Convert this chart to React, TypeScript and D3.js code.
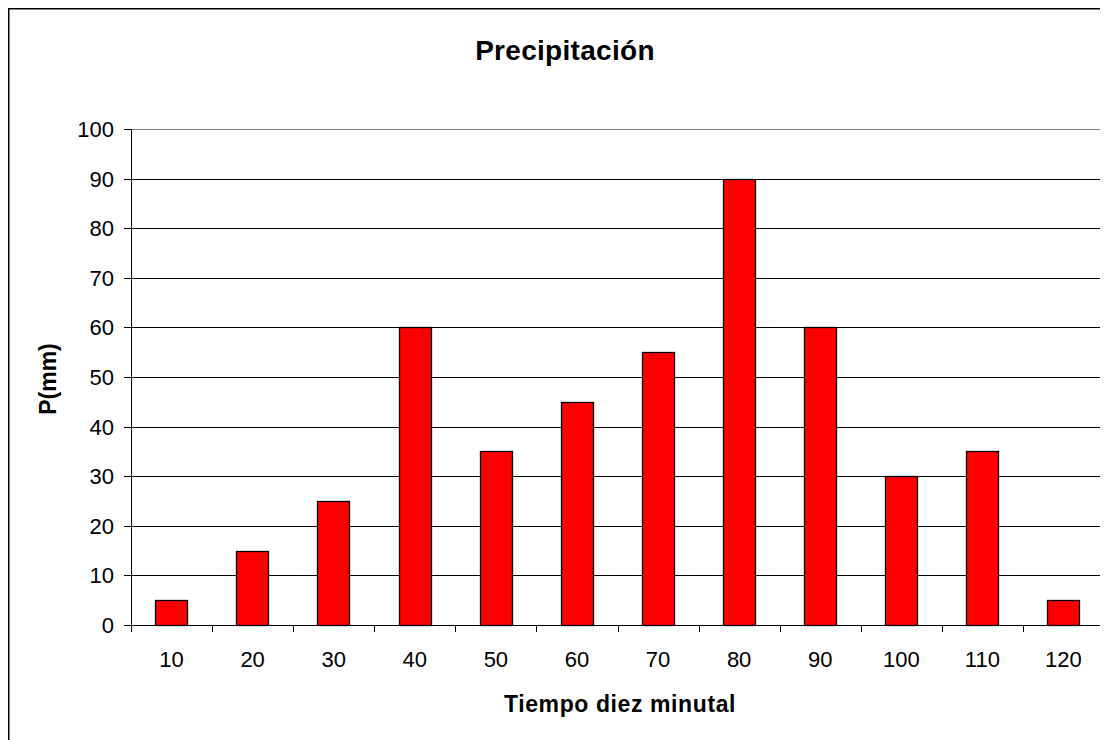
import React from 'react';
import * as d3 from 'd3';

const categories = ['10', '20', '30', '40', '50', '60', '70', '80', '90', '100', '110', '120'];
const precipitation = [5, 15, 25, 60, 35, 45, 55, 90, 60, 30, 35, 5];
const yTicks = [0, 10, 20, 30, 40, 50, 60, 70, 80, 90, 100];

const width = 1100;
const height = 732;
const margin = { left: 123, top: 121, right: 1096, bottom: 617 };
const font = 'Arial, "Liberation Sans", sans-serif';

const App: React.FC = () => {
  const x = d3.scaleBand<string>()
    .domain(categories)
    .range([margin.left, margin.right])
    .paddingInner(0.6)
    .paddingOuter(0.3);
  const step = x.step();
  const y = d3.scaleLinear().domain([0, 100]).range([margin.bottom, margin.top]);

  return (
    <>
      <style>{'body{overflow:hidden}'}</style>
      <svg width={width} height={height} style={{ display: 'block', fontFamily: font }}>
        <rect x={0.75} y={0.75} width={1130} height={780} fill="#fff" stroke="#000" strokeWidth={1.5} />
        <text x={557} y={52} textAnchor="middle" fontSize={28} fontWeight="bold" letterSpacing={0.3}>Precipitación</text>

        {/* gridlines */}
        {yTicks.slice(1, -1).map(t => (
          <line key={t} x1={margin.left} x2={margin.right} y1={Math.round(y(t)) + 0.5} y2={Math.round(y(t)) + 0.5} stroke="#000" strokeWidth={1} />
        ))}
        <line x1={margin.left} x2={margin.right} y1={y(100) + 0.5} y2={y(100) + 0.5} stroke="#808080" strokeWidth={1} />
        <line x1={margin.right + 0.5} x2={margin.right + 0.5} y1={margin.top} y2={margin.bottom} stroke="#808080" strokeWidth={1} />

        {/* bars */}
        {precipitation.map((v, i) => (
          <rect key={i} x={Math.round(x(categories[i])!) + 0.5} y={Math.round(y(v)) + 0.5}
            width={Math.round(x.bandwidth())} height={Math.round(y(0)) - Math.round(y(v))}
            fill="#ff0000" stroke="#000" strokeWidth={1.3} />
        ))}

        {/* y axis */}
        <line x1={margin.left + 0.5} x2={margin.left + 0.5} y1={margin.top} y2={margin.bottom + 7} stroke="#000" />
        {yTicks.map(t => (
          <g key={t}>
            <line x1={margin.left - 7} x2={margin.left} y1={Math.round(y(t)) + 0.5} y2={Math.round(y(t)) + 0.5} stroke="#000" />
            <text x={margin.left - 17} y={y(t)} dy="0.36em" textAnchor="end" fontSize={22}>{t}</text>
          </g>
        ))}

        {/* x axis */}
        <line x1={margin.left} x2={margin.right + 1} y1={margin.bottom + 0.5} y2={margin.bottom + 0.5} stroke="#000" />
        {categories.map((c, i) => (
          <g key={c}>
            <line x1={Math.round(margin.left + step * (i + 1)) + 0.5} x2={Math.round(margin.left + step * (i + 1)) + 0.5}
              y1={margin.bottom} y2={margin.bottom + 7} stroke="#000" />
            <text x={x(c)! + x.bandwidth() / 2} y={margin.bottom + 42} textAnchor="middle" fontSize={22}>{c}</text>
          </g>
        ))}

        <text x={612} y={704} textAnchor="middle" fontSize={23} fontWeight="bold" letterSpacing={0.6}>Tiempo diez minutal</text>
        <text transform={`translate(48,${(margin.top + margin.bottom) / 2 + 2}) rotate(-90)`} textAnchor="middle" fontSize={23} fontWeight="bold">P(mm)</text>
      </svg>
    </>
  );
};

export default App;
